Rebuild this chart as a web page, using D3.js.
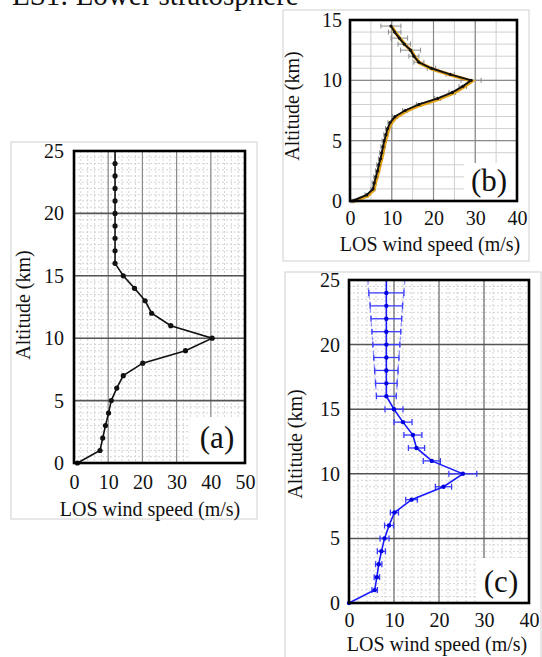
<!DOCTYPE html>
<html><head><meta charset="utf-8">
<script src="https://cdn.jsdelivr.net/npm/d3@7"></script>
<style>
body{margin:0;background:#fff}
svg{display:block}
text{font-family:"Liberation Serif","Times New Roman",serif;fill:#111}
</style>
</head><body>
<svg id="chart" width="542" height="657"></svg>
<script>
// ---------- data ----------
const titleText = "ES1: Lower stratosphere";
const xLabel = "LOS wind speed (m/s)";
const yLabel = "Altitude (km)";

// panel (a)
const altA  = [0,1,2,3,4,5,6,7,8,9,10,11,12,13,14,15,16,17,18,19,20,21,22,23,24,25];
const windA = [1.0,7.6,8.4,9.2,10.1,10.9,12.5,14.4,20.1,32.6,40.4,28.3,22.7,20.8,17.7,14.4,12.0,12.0,12.0,12.0,12.0,12.0,12.0,12.0,12.0,12.0];
const xTicksA = [0,10,20,30,40,50];
const yTicksA = [0,5,10,15,20,25];

// panel (b)
const altB  = [0,0.5,1,1.5,2,2.5,3,3.5,4,4.5,5,5.5,6,6.5,7,7.5,8,8.5,9,9.5,10,10.5,11,11.5,12,12.5,13,13.5,14,14.5];
const windB = [0.5,4.0,5.5,5.8,6.2,6.6,6.9,7.3,7.6,7.9,8.2,8.6,9.0,9.6,10.8,13.2,16.5,21.0,24.5,27.0,29.0,24.0,19.5,16.5,15.3,14.5,13.0,11.8,10.7,9.8];
const errB  = [0.3,0.4,0.5,0.5,0.5,0.5,0.5,0.5,0.5,0.5,0.5,0.5,0.5,0.5,0.6,0.6,0.6,0.7,0.8,0.9,2.4,1.0,1.0,1.2,1.2,2.4,1.5,2.0,1.5,2.4];
const xTicksB = [0,10,20,30,40];
const yTicksB = [0,5,10,15];

// panel (c)
const altC  = [0,1,2,3,4,5,6,7,8,9,10,11,12,13,14,15,16,17,18,19,20,21,22,23,24,25];
const windC = [0.0,5.7,6.2,6.6,7.2,7.9,8.9,10.1,13.9,21.0,25.3,18.4,15.0,14.2,12.0,10.0,8.3,8.3,8.3,8.3,8.3,8.3,8.3,8.3,8.3,8.3];
const errC  = [0.0,0.6,0.6,0.7,0.9,1.0,1.0,0.9,1.3,1.8,3.1,1.9,1.8,2.0,2.0,2.0,2.2,2.4,2.6,2.8,3.0,3.2,3.4,3.6,3.9,4.1];
const xTicksC = [0,10,20,30,40];
const yTicksC = [0,5,10,15,20,25];

// ---------- drawing ----------
const svg = d3.select("#chart");
const FONT = '"Liberation Serif","Times New Roman",serif';

svg.append("text").attr("x",12).attr("y",5)
  .style("font-size","29px").text(titleText);

function panel(o){
  const g = svg.append("g");
  g.append("rect").attr("x",o.frame[0]).attr("y",o.frame[1])
    .attr("width",o.frame[2]).attr("height",o.frame[3])
    .attr("fill","#fff").attr("stroke","#d0d0d0").attr("stroke-width",1);

  const x = d3.scaleLinear().domain(o.xDom).range([o.L,o.R]);
  const y = d3.scaleLinear().domain(o.yDom).range([o.B,o.T]);

  const gx = d3.range(o.xDom[0], o.xDom[1]+1e-9, o.xMinor);
  const gy = d3.range(o.yDom[0], o.yDom[1]+1e-9, o.yMinor);
  const minor = g.append("g").attr("stroke",o.minorColor).attr("stroke-width",1)
     .attr("stroke-dasharray",o.minorDash);
  minor.selectAll("line.vx").data(gx).join("line")
    .attr("x1",d=>x(d)).attr("x2",d=>x(d)).attr("y1",o.T).attr("y2",o.B);
  minor.selectAll("line.hy").data(gy).join("line")
    .attr("y1",d=>y(d)).attr("y2",d=>y(d)).attr("x1",o.L).attr("x2",o.R);
  g.append("g").selectAll("line").data(o.xMajor).join("line")
    .attr("x1",d=>x(d)).attr("x2",d=>x(d)).attr("y1",o.T).attr("y2",o.B)
    .attr("stroke",o.vMajorColor).attr("stroke-width",1.2);
  g.append("g").selectAll("line").data(o.yMajor).join("line")
    .attr("y1",d=>y(d)).attr("y2",d=>y(d)).attr("x1",o.L).attr("x2",o.R)
    .attr("stroke",o.hMajorColor).attr("stroke-width",o.hMajorW);

  g.append("rect").attr("x",o.box[0]).attr("y",o.box[1]).attr("width",o.box[2]).attr("height",o.box[3])
    .attr("fill","#fff");

  const ax = g.append("g").attr("transform",`translate(0,${o.B})`)
    .call(d3.axisBottom(x).tickValues(o.xTicks).tickSize(0).tickPadding(o.xPad).tickFormat(d3.format("d")));
  const ay = g.append("g").attr("transform",`translate(${o.L},0)`)
    .call(d3.axisLeft(y).tickValues(o.yTicks).tickSize(0).tickPadding(o.yPad).tickFormat(d3.format("d")));
  [ax,ay].forEach(a=>{
    a.attr("font-family",FONT);
    a.select(".domain").remove();
    a.selectAll("text").style("font-family",FONT).style("font-size",o.tickFS+"px").attr("fill","#111");
  });

  o.draw(g,x,y);

  g.append("rect").attr("x",o.L).attr("y",o.T).attr("width",o.R-o.L).attr("height",o.B-o.T)
    .attr("fill","none").attr("stroke","#000").attr("stroke-width",2.6);

  g.append("text").attr("x",o.xl[0]).attr("y",o.xl[1]).attr("text-anchor","middle")
    .style("font-size",o.labFS+"px").text(xLabel);
  g.append("text").attr("transform",`translate(${o.yl[0]},${o.yl[1]}) rotate(-90)`)
    .attr("text-anchor","middle").style("font-size",o.labFS+"px").text(yLabel);
  g.append("text").attr("x",o.tag[0]).attr("y",o.tag[1]).attr("text-anchor","middle")
    .style("font-size","31px").text(o.tagText);
}

function errBars(g,x,y,alts,vals,errs,color,capH,w){
  const eg = g.append("g").attr("stroke",color).attr("stroke-width",w);
  alts.forEach((a,i)=>{
    if(errs[i]<=0) return;
    const yy=y(a), xl=x(vals[i]-errs[i]), xr=x(vals[i]+errs[i]);
    eg.append("line").attr("x1",xl).attr("x2",xr).attr("y1",yy).attr("y2",yy);
    eg.append("line").attr("x1",xl).attr("x2",xl).attr("y1",yy-capH).attr("y2",yy+capH);
    eg.append("line").attr("x1",xr).attr("x2",xr).attr("y1",yy-capH).attr("y2",yy+capH);
  });
}

// (a)
panel({
  frame:[11,142,246,377], L:74,R:245,T:151,B:463, xDom:[0,50], yDom:[0,25],
  xMinor:2, yMinor:0.5, minorColor:"#d4d4d4", minorDash:"2,2",
  xMajor:[10,20,30,40], yMajor:[5,10,15,20], vMajorColor:"#8a8a8a", hMajorColor:"#555", hMajorW:1.6,
  box:[190,417,54,45],
  xTicks:xTicksA, yTicks:yTicksA, xPad:12, yPad:10, tickFS:20, labFS:20,
  xl:[150,516], yl:[30,305], tag:[217,448], tagText:"(a)",
  draw:(g,x,y)=>{
    const line=d3.line().x((d,i)=>x(windA[i])).y(d=>y(d));
    g.append("path").datum(altA).attr("d",line).attr("fill","none").attr("stroke","#111").attr("stroke-width",1.6);
    g.append("g").selectAll("circle").data(altA.slice(0,-1)).join("circle")
      .attr("cx",(d,i)=>x(windA[i])).attr("cy",d=>y(d)).attr("r",2.6).attr("fill","#111");
  }
});

// (b)
panel({
  frame:[283,10,246,251], L:350,R:517,T:20,B:201, xDom:[0,40], yDom:[0,15],
  xMinor:5, yMinor:1, minorColor:"#cfcfcf", minorDash:null,
  xMajor:[10,20,30], yMajor:[5,10], vMajorColor:"#8a8a8a", hMajorColor:"#8a8a8a", hMajorW:1.3,
  box:[464,163,52,37],
  xTicks:xTicksB, yTicks:yTicksB, xPad:10, yPad:8, tickFS:20, labFS:20,
  xl:[430,251], yl:[299,106], tag:[489,191], tagText:"(b)",
  draw:(g,x,y)=>{
    errBars(g,x,y,altB,windB,errB,"#8c8c8c",2.5,1);
    const line=d3.line().x((d,i)=>x(windB[i])).y(d=>y(d));
    g.append("path").datum(altB).attr("d",line).attr("fill","none").attr("stroke","#e3a21a")
      .attr("stroke-width",3.4).attr("transform","translate(1,0.8)");
    g.append("path").datum(altB).attr("d",line).attr("fill","none").attr("stroke","#111").attr("stroke-width",1.9);
    g.append("g").selectAll("circle").data(altB).join("circle")
      .attr("cx",(d,i)=>x(windB[i])).attr("cy",d=>y(d)).attr("r",1.6).attr("fill","#111");
  }
});

// (c)
panel({
  frame:[285,272,256,392], L:349,R:529,T:280,B:603, xDom:[0,40], yDom:[0,25],
  xMinor:2, yMinor:0.5, minorColor:"#d4d4d4", minorDash:"2,2",
  xMajor:[10,20,30], yMajor:[5,10,15,20], vMajorColor:"#6a6a6a", hMajorColor:"#555", hMajorW:1.5,
  box:[477,558,51,44],
  xTicks:xTicksC, yTicks:yTicksC, xPad:10, yPad:9, tickFS:20, labFS:20,
  xl:[437,651], yl:[302,444], tag:[501,592], tagText:"(c)",
  draw:(g,x,y)=>{
    const up = altC.map((a,i)=>i).filter(i=>altC[i]>=16);
    const env = s => d3.line().x(i=>x(windC[i]+s*errC[i])).y(i=>y(altC[i]));
    [-1,1].forEach(s=>{
      g.append("path").datum(up).attr("d",env(s)).attr("fill","none")
        .attr("stroke","#8f8fff").attr("stroke-width",1.3).attr("stroke-dasharray","4,3");
    });
    errBars(g,x,y,altC.slice(0,-1),windC,errC,"#3b3bff",3,1.3);
    const line=d3.line().x((d,i)=>x(windC[i])).y(d=>y(d));
    g.append("path").datum(altC).attr("d",line).attr("fill","none").attr("stroke","#1a1aff").attr("stroke-width",1.6);
    g.append("g").selectAll("circle").data(altC.slice(0,-1)).join("circle")
      .attr("cx",(d,i)=>x(windC[i])).attr("cy",d=>y(d)).attr("r",2.2).attr("fill","#0000e0");
  }
});
</script>
</body></html>
